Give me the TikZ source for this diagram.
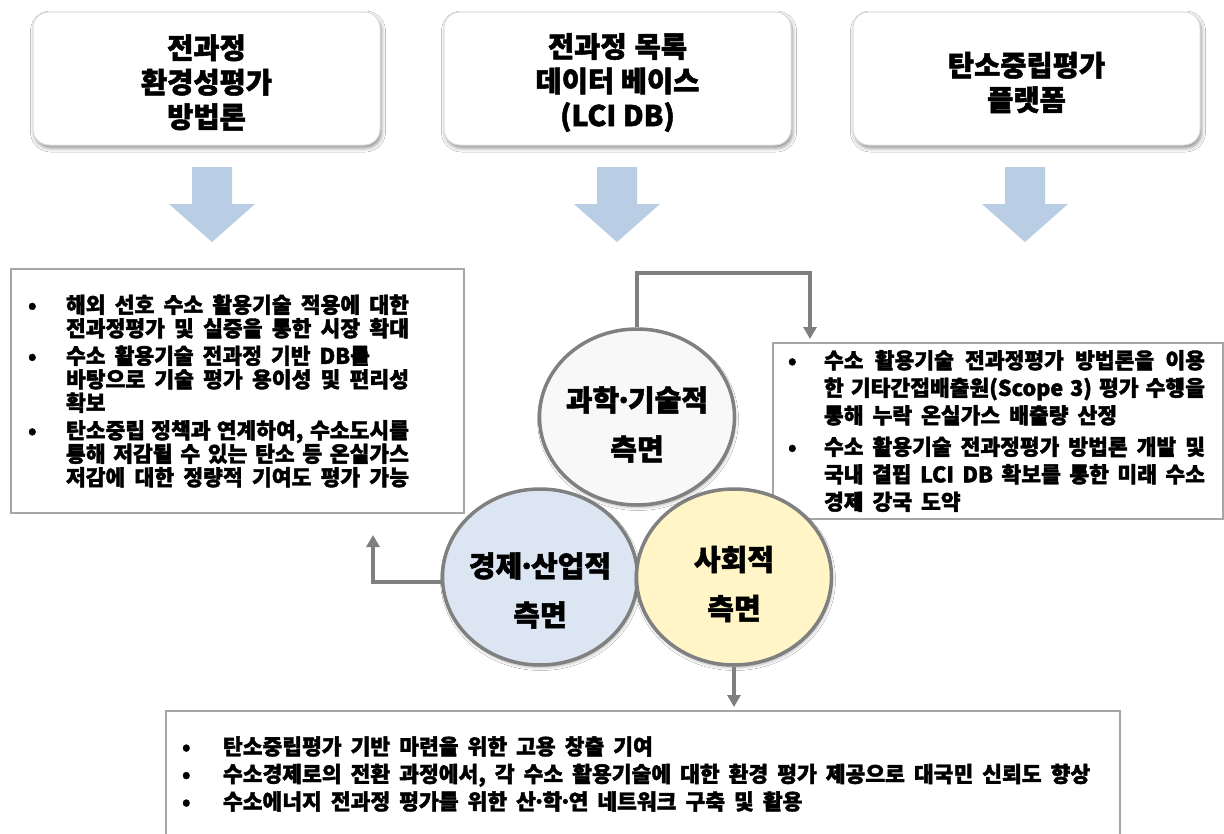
\documentclass[tikz,border=0pt]{standalone}
\usepackage{fontspec}
\setmainfont{Noto Sans CJK KR}
\newfontfamily\krtop[FakeBold=1.8]{Noto Sans CJK KR}
\newfontfamily\krcir[FakeBold=1.8]{Noto Sans CJK KR}
\newfontfamily\krbul[FakeBold=1.8]{Noto Sans CJK KR}
\usetikzlibrary{arrows.meta,shapes.geometric,shadows.blur,calc}
\definecolor{arrowblue}{HTML}{B9CDE5}
\definecolor{conngray}{HTML}{7F7F7F}
\definecolor{circgray}{HTML}{808080}
\definecolor{topfill}{HTML}{F8F8F8}
\definecolor{leftfill}{HTML}{DCE6F2}
\definecolor{rightfill}{HTML}{FFF5C6}
\definecolor{boxline}{HTML}{A6A6A6}
\definecolor{topline}{HTML}{DDDDDD}
\newcommand\wsTop{\spaceskip=8pt\relax}
\newcommand\wsList{\spaceskip=9pt plus 30pt minus 3pt\relax}
\newcommand\wsBot{\spaceskip=9pt\relax}
\newcommand\mdot{\makebox[0.3em]{·}}
\begin{document}
\begin{tikzpicture}[x=1pt,y=-1pt,
  topbox/.style={draw=topline, line width=1pt, fill=white, rounded corners=16pt,
    minimum width=347pt, minimum height=133pt, inner sep=0pt,
    blur shadow={shadow xshift=1.5pt, shadow yshift=-3pt, shadow blur radius=4pt, shadow opacity=45}},
  toptext/.style={align=center, font=\krtop\bfseries\fontsize{28.5}{34.5}\selectfont},
  aspect/.style={ellipse, draw=circgray, line width=3.5pt, minimum width=195pt,
    minimum height=176pt, inner sep=0pt,
    blur shadow={shadow xshift=1pt, shadow yshift=-2.5pt, shadow blur radius=3pt, shadow opacity=30}},
  asptext/.style={align=center, font=\krcir\bfseries\fontsize{29}{49}\selectfont},
  listbox/.style={draw=boxline, line width=2pt, fill=white, align=left, anchor=north west,
    inner ysep=0pt},
  conn/.style={draw=conngray, line width=3.5pt, -{Triangle[width=13pt,length=12pt]}},
  blockarrow/.style={fill=arrowblue}
]
\fill[white] (0,0) rectangle (1224,833);
\useasboundingbox (0,0) rectangle (1224,833);

% top boxes
\node[topbox, label={[toptext, name=t1, yshift=-4pt]center:{\wsTop 전과정\\환경성평가\\방법론}}] (b1) at (206.5,78.5) {};
\node[topbox, label={[toptext, name=t2, yshift=-4pt]center:{\wsTop 전과정 목록\\데이터 베이스\\(LCI DB)}}] (b2) at (617.5,78.5) {};
\node[topbox, label={[toptext, name=t3, yshift=-4pt]center:{\wsTop 탄소중립평가\\플랫폼}}] (b3) at (1026.5,78.5) {};

% block arrows
\foreach \cx in {212,617,1025}{
  \fill[blockarrow] (\cx-20,167) -- (\cx+20,167) -- (\cx+20,204) -- (\cx+43,204)
    -- (\cx,242) -- (\cx-43,204) -- (\cx-20,204) -- cycle;
}

% left list box
\node[listbox, font=\krbul\bfseries\fontsize{21.5}{23.5}\selectfont, text width=419pt, inner xsep=17pt, minimum height=244pt] (lbox) at (10,268) {\wsList
\makebox[38pt][l]{•}\makebox[343pt][s]{해외 선호 수소 활용기술 적용에 대한}\\
\hspace*{38pt}\makebox[343pt][s]{전과정평가 및 실증을 통한 시장 확대}\\[4pt]
\makebox[38pt][l]{•}수소 활용기술 전과정 기반 DB를\\
\hspace*{38pt}\makebox[343pt][s]{바탕으로 기술 평가 용이성 및 편리성}\\
\hspace*{38pt}확보\\[4pt]
\makebox[38pt][l]{•}\makebox[343pt][s]{탄소중립 정책과 연계하여, 수소도시를}\\
\hspace*{38pt}\makebox[343pt][s]{통해 저감될 수 있는 탄소 등 온실가스}\\
\hspace*{38pt}\makebox[343pt][s]{저감에 대한 정량적 기여도 평가 가능}};

% right list box
\node[listbox, font=\krbul\bfseries\fontsize{21.5}{27.5}\selectfont, text width=420pt, inner xsep=15pt, minimum height=176pt] (rbox) at (772,342) {\wsList
\makebox[36pt][l]{•}\makebox[381pt][s]{수소 활용기술 전과정평가 방법론을 이용}\\
\hspace*{36pt}\makebox[381pt][s]{한 기타간접배출원(Scope 3) 평가 수행을}\\
\hspace*{36pt}통해 누락 온실가스 배출량 산정\\[4pt]
\makebox[36pt][l]{•}\makebox[381pt][s]{수소 활용기술 전과정평가 방법론 개발 및}\\
\hspace*{36pt}\makebox[381pt][s]{국내 결핍 LCI DB 확보를 통한 미래 수소}\\
\hspace*{36pt}경제 강국 도약};

% bottom list box
\node[listbox, font=\krbul\bfseries\fontsize{21.5}{27.5}\selectfont, text width=922pt, inner xsep=16pt, minimum height=126pt] (bbox) at (165,710) {\wsBot
\makebox[41pt][l]{•}탄소중립평가 기반 마련을 위한 고용 창출 기여\\
\makebox[41pt][l]{•}수소경제로의 전환 과정에서, 각 수소 활용기술에 대한 환경 평가 제공으로 대국민 신뢰도 향상\\
\makebox[41pt][l]{•}수소에너지 전과정 평가를 위한 산\mdot 학\mdot 연 네트워크 구축 및 활용};

% circles
\node[aspect, fill=leftfill, label={[asptext, name=lt, yshift=-13.5pt]center:{경제\mdot 산업적\\측면}}] (leftc) at (540,577) {};
\node[aspect, fill=rightfill, label={[asptext, name=rt, yshift=-7pt]center:{사회적\\측면}}] (rightc) at (734,577) {};
\node[aspect, fill=topfill, label={[asptext, name=tt, yshift=-7.5pt]center:{과학\mdot 기술적\\측면}}] (topc) at (637,417) {};

% connectors
\coordinate (k1) at (810,273);
\coordinate (k2) at (373,535);
\draw[conn, shorten >=3pt] (topc.north) |- (k1) -- (k1 |- rbox.north);
\draw[conn] ([yshift=-5pt]leftc.west) -| (k2);
\draw[conn, shorten >=3pt] (rightc.south) -- (rightc.south |- bbox.north);
\end{tikzpicture}
\end{document}
